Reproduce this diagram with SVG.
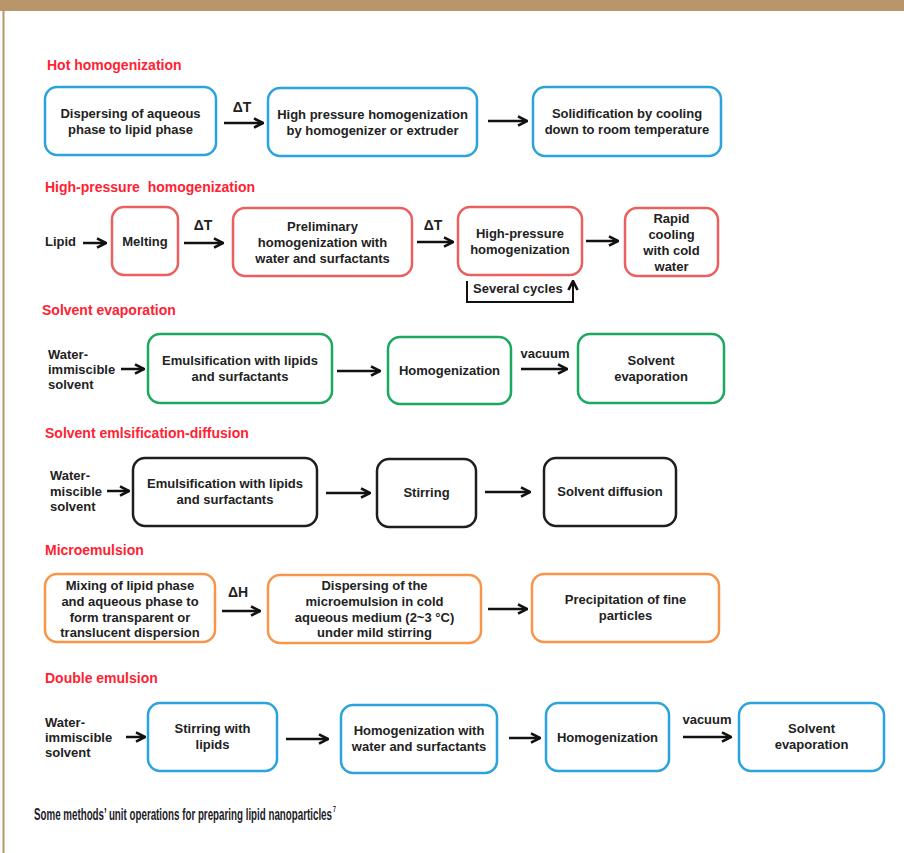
<svg xmlns="http://www.w3.org/2000/svg" width="904" height="853" viewBox="0 0 904 853">
<style>
.t{font-family:"Liberation Sans",Arial,sans-serif;font-weight:bold;font-size:13px;fill:#222;}
.c{text-anchor:middle;}
.h{font-family:"Liberation Sans",Arial,sans-serif;font-weight:bold;font-size:14px;fill:#FF2233;}
.b{fill:#fff;stroke-width:2.5;}
.blue{stroke:#2BA3DD;}
.red{stroke:#EC5F5F;}
.green{stroke:#1BA95F;}
.black{stroke:#1e1e1e;}
.orange{stroke:#F7964A;}
.a{stroke:#111;stroke-width:2.5;fill:none;marker-end:url(#ah);}
.lbl{font-family:"Liberation Sans",Arial,sans-serif;font-weight:bold;font-size:14px;fill:#222;text-anchor:middle;}
</style>
<defs>
<marker id="ah" viewBox="0 0 10 10" refX="9" refY="5" markerWidth="12" markerHeight="12" markerUnits="userSpaceOnUse" orient="auto">
<path d="M1.5,1.2 L9,5 L1.5,8.8" fill="none" stroke="#111" stroke-width="2.2"/>
</marker>
</defs>
<rect x="0" y="0" width="904" height="853" fill="#fff"/>
<rect x="0" y="0" width="904" height="11" fill="#B8966A"/>
<rect x="2.5" y="11" width="2" height="842" fill="#B8966A"/>

<!-- titles -->
<text class="h" x="47" y="70">Hot homogenization</text>
<text class="h" x="45" y="192" xml:space="preserve">High-pressure  homogenization</text>
<text class="h" x="42" y="315">Solvent evaporation</text>
<text class="h" x="45" y="438">Solvent emlsification-diffusion</text>
<text class="h" x="45" y="555">Microemulsion</text>
<text class="h" x="45" y="683">Double emulsion</text>

<!-- Row 1 -->
<g id="hot1"><rect class="b blue" x="45" y="87" width="171" height="68" rx="12"/>
<text class="t c" x="130.5" y="118">Dispersing of aqueous</text><text class="t c" x="130.5" y="134">phase to lipid phase</text></g>
<g id="hot2"><rect class="b blue" x="268" y="88" width="209" height="68" rx="12"/>
<text class="t c" x="372.5" y="119">High pressure homogenization</text><text class="t c" x="372.5" y="135">by homogenizer or extruder</text></g>
<g id="hot3"><rect class="b blue" x="533" y="87" width="188" height="69" rx="12"/>
<text class="t c" x="627" y="118">Solidification by cooling</text><text class="t c" x="627" y="134">down to room temperature</text></g>

<!-- Row 2 -->
<g id="hp-lipid"><text class="t" x="45" y="246">Lipid</text></g>
<g id="hp1"><rect class="b red" x="112" y="207" width="66" height="68" rx="12"/>
<text class="t c" x="145" y="246">Melting</text></g>
<g id="hp2"><rect class="b red" x="233" y="208" width="179" height="68" rx="12"/>
<text class="t c" x="322.5" y="231">Preliminary</text><text class="t c" x="322.5" y="247">homogenization with</text><text class="t c" x="322.5" y="263">water and surfactants</text></g>
<g id="hp3"><rect class="b red" x="458" y="207" width="124" height="68" rx="12"/>
<text class="t c" x="520" y="238">High-pressure</text><text class="t c" x="520" y="254">homogenization</text></g>
<g id="hp4"><rect class="b red" x="625" y="208" width="93" height="68" rx="12"/>
<text class="t c" x="671.5" y="223">Rapid</text><text class="t c" x="671.5" y="239">cooling</text><text class="t c" x="671.5" y="255">with cold</text><text class="t c" x="671.5" y="271">water</text></g>

<!-- Row 3 -->
<g id="se-in"><text class="t" x="48" y="359">Water-</text><text class="t" x="48" y="374">immiscible</text><text class="t" x="48" y="389">solvent</text></g>
<g id="se1"><rect class="b green" x="148" y="334" width="184" height="69" rx="12"/>
<text class="t c" x="240" y="365">Emulsification with lipids</text><text class="t c" x="240" y="381">and surfactants</text></g>
<g id="se2"><rect class="b green" x="388" y="337" width="123" height="67" rx="12"/>
<text class="t c" x="449.5" y="375">Homogenization</text></g>
<g id="se3"><rect class="b green" x="578" y="334" width="146" height="69" rx="12"/>
<text class="t c" x="651" y="365">Solvent</text><text class="t c" x="651" y="381">evaporation</text></g>

<!-- Row 4 -->
<g id="sed-in"><text class="t" x="50" y="480">Water-</text><text class="t" x="50" y="495.5">miscible</text><text class="t" x="50" y="511">solvent</text></g>
<g id="sed1"><rect class="b black" x="133" y="458" width="184" height="68" rx="12"/>
<text class="t c" x="225" y="488">Emulsification with lipids</text><text class="t c" x="225" y="504">and surfactants</text></g>
<g id="sed2"><rect class="b black" x="377" y="459" width="99" height="68" rx="12"/>
<text class="t c" x="426.5" y="497">Stirring</text></g>
<g id="sed3"><rect class="b black" x="544" y="458" width="132" height="68" rx="12"/>
<text class="t c" x="610" y="496">Solvent diffusion</text></g>

<!-- Row 5 -->
<g id="me1"><rect class="b orange" x="45" y="574" width="170" height="68" rx="12"/>
<text class="t c" x="130" y="590">Mixing of lipid phase</text><text class="t c" x="130" y="606">and aqueous phase to</text><text class="t c" x="130" y="621.5">form transparent or</text><text class="t c" x="130" y="637">translucent dispersion</text></g>
<g id="me2"><rect class="b orange" x="268" y="575" width="213" height="68" rx="12"/>
<text class="t c" x="374.5" y="590">Dispersing of the</text><text class="t c" x="374.5" y="606">microemulsion in cold</text><text class="t c" x="374.5" y="621.5">aqueous medium (2~3 °C)</text><text class="t c" x="374.5" y="637">under mild stirring</text></g>
<g id="me3"><rect class="b orange" x="532" y="574" width="187" height="68" rx="12"/>
<text class="t c" x="625.5" y="604">Precipitation of fine</text><text class="t c" x="625.5" y="620">particles</text></g>

<!-- Row 6 -->
<g id="de-in"><text class="t" x="45" y="727">Water-</text><text class="t" x="45" y="742">immiscible</text><text class="t" x="45" y="757">solvent</text></g>
<g id="de1"><rect class="b blue" x="148" y="703" width="129" height="68" rx="12"/>
<text class="t c" x="212.5" y="733">Stirring with</text><text class="t c" x="212.5" y="749">lipids</text></g>
<g id="de2"><rect class="b blue" x="341" y="705" width="156" height="68" rx="12"/>
<text class="t c" x="419" y="735">Homogenization with</text><text class="t c" x="419" y="751">water and surfactants</text></g>
<g id="de3"><rect class="b blue" x="546" y="703" width="123" height="68" rx="12"/>
<text class="t c" x="607.5" y="742">Homogenization</text></g>
<g id="de4"><rect class="b blue" x="739" y="703" width="145" height="68" rx="12"/>
<text class="t c" x="811.5" y="733">Solvent</text><text class="t c" x="811.5" y="749">evaporation</text></g>

<!-- connectors -->
<g id="connectors">
<line class="a" x1="224" y1="123" x2="263" y2="123"/>
<text class="lbl" x="242" y="112">ΔT</text>
<line class="a" x1="488" y1="121" x2="527" y2="121"/>

<line class="a" x1="83" y1="243" x2="106" y2="243"/>
<line class="a" x1="184" y1="243" x2="223" y2="243"/>
<text class="lbl" x="203" y="230">ΔT</text>
<line class="a" x1="417" y1="242" x2="453" y2="242"/>
<text class="lbl" x="433" y="230">ΔT</text>
<line class="a" x1="586" y1="241" x2="618" y2="241"/>
<path d="M467,281 V302 H573 V281" fill="none" stroke="#111" stroke-width="2" marker-end="url(#ah)"/>
<text class="t" x="473" y="293">Several cycles</text>

<line class="a" x1="121" y1="369" x2="144" y2="369"/>
<line class="a" x1="337" y1="371" x2="380" y2="371"/>
<line class="a" x1="521" y1="369" x2="567" y2="369"/>
<text class="t c" x="545" y="358">vacuum</text>

<line class="a" x1="107" y1="491" x2="129" y2="491"/>
<line class="a" x1="326" y1="493" x2="370" y2="493"/>
<line class="a" x1="485" y1="492" x2="530" y2="492"/>

<line class="a" x1="222" y1="611" x2="260" y2="611"/>
<text class="lbl" x="238" y="597">ΔH</text>
<line class="a" x1="488" y1="609" x2="527" y2="609"/>

<line class="a" x1="126" y1="737" x2="145" y2="737"/>
<line class="a" x1="286" y1="739" x2="328" y2="739"/>
<line class="a" x1="509" y1="738" x2="540" y2="738"/>
<line class="a" x1="683" y1="737" x2="731" y2="737"/>
<text class="t c" x="707" y="724">vacuum</text>
</g>

<text x="34" y="820" font-family="'Liberation Sans Narrow','Liberation Sans',Arial,sans-serif" font-stretch="condensed" font-weight="bold" font-size="17" fill="#1c1c28" textLength="302" lengthAdjust="spacingAndGlyphs">Some methods’ unit operations for preparing lipid nanoparticles<tspan dx="2" dy="-8" font-size="9">7</tspan></text>
</svg>
